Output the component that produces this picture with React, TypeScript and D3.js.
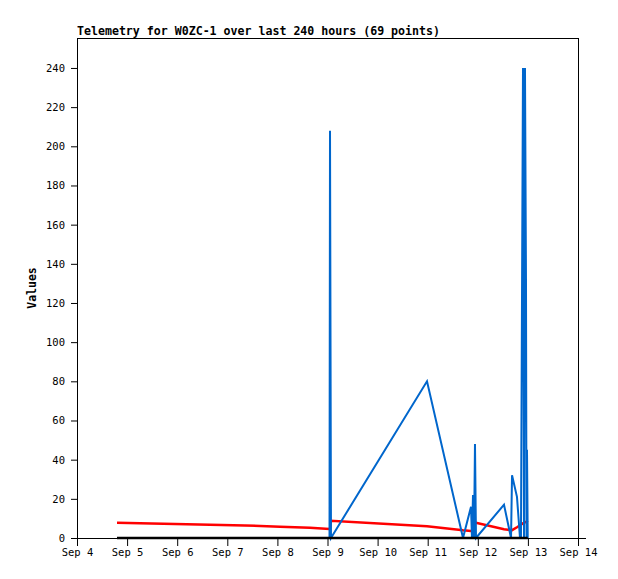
import { useEffect, useRef } from 'react';
import * as d3 from 'd3';

// sample times (Sep, local) and the three telemetry channels
const times = [
  '2021-09-04T19:10', '2021-09-05T06:10', '2021-09-05T22:57', '2021-09-06T15:43',
  '2021-09-07T08:28', '2021-09-08T01:15', '2021-09-08T15:37', '2021-09-09T00:58',
  '2021-09-09T01:12', '2021-09-09T01:40', '2021-09-10T23:40', '2021-09-11T16:55',
  '2021-09-11T20:45', '2021-09-11T21:13', '2021-09-11T21:42', '2021-09-11T22:11',
  '2021-09-11T22:39', '2021-09-11T23:08', '2021-09-12T12:33', '2021-09-12T15:55',
  '2021-09-12T16:24', '2021-09-12T18:46', '2021-09-12T20:13', '2021-09-12T20:41',
  '2021-09-12T21:39', '2021-09-12T22:08', '2021-09-12T22:36', '2021-09-12T23:05',
  '2021-09-12T23:20', '2021-09-12T23:34', '2021-09-12T23:55',
];
const ch1 = [
  0, 0, 0, 0, 0, 0, 0, 0,
  208, 0, 80, 0,
  16, 0, 22, 0,
  48, 0, 17, 0,
  32, 21, 0, 0,
  240, 0, 240, 132,
  0, 45, 0,
];
const ch2 = [
  7.8, 7.5, 7.2, 6.8, 6.4, 5.8, 5.2, 4.6,
  4.6, 8.8, 6.0, 3.9,
  3.6, 3.6, 3.6, 7.6,
  7.8, 7.8, 4.5, 4.0,
  4.0, 5.5, 6.5, 6.8,
  7.5, 7.8, 8.0, 8.2,
  8.4, 8.6, 8.9,
];
const ch3 = times.map(() => 0);

const title = 'Telemetry for W0ZC-1 over last 240 hours (69 points)';
const yTicks = [0, 20, 40, 60, 80, 100, 120, 140, 160, 180, 200, 220, 240];

export default function App() {
  const ref = useRef<SVGSVGElement>(null);

  useEffect(() => {
    if (!ref.current) return;
    const svg = d3.select(ref.current);
    svg.selectAll('*').remove();

    const W = 618;
    const H = 579;
    const left = 77;
    const right = 578;
    const top = 38;
    const bottom = 538;
    const mono = 'DejaVu Sans Mono, monospace';

    const parse = d3.timeParse('%Y-%m-%dT%H:%M');
    const dates = times.map((t) => parse(t) as Date);

    const x = d3.scaleTime()
      .domain([new Date(2021, 8, 4), new Date(2021, 8, 14)])
      .range([left, right]);
    const y = d3.scaleLinear().domain([0, 255.3]).range([bottom, top]);

    svg.append('rect').attr('width', W).attr('height', H).attr('fill', '#fff');

    // frame
    svg.append('rect')
      .attr('x', left + 0.5).attr('y', top + 0.5)
      .attr('width', right - left).attr('height', bottom - top)
      .attr('fill', 'none').attr('stroke', '#000').attr('stroke-width', 1);

    // series: red, blue, black on top
    const series: [number[], string, number][] = [
      [ch2, '#ff0000', 2.5],
      [ch1, '#0066cc', 2],
      [ch3, '#000000', 2.5],
    ];
    series.forEach(([vals, color, w]) => {
      const line = d3.line<number>()
        .x((_, i) => x(dates[i]))
        .y((d) => y(d));
      svg.append('path')
        .attr('d', line(vals) as string)
        .attr('fill', 'none')
        .attr('stroke', color)
        .attr('stroke-width', w)
        .attr('stroke-linejoin', 'miter');
    });

    // x axis
    const xAxis = d3.axisBottom(x)
      .ticks(d3.timeDay.every(1))
      .tickSize(8)
      .tickSizeOuter(0)
      .tickFormat((d) => d3.timeFormat('Sep %-d')(d as Date));
    const gx = svg.append('g')
      .attr('transform', `translate(0,${bottom})`)
      .call(xAxis);
    gx.select('.domain').remove();
    gx.selectAll('.tick line').attr('stroke', '#000');
    gx.selectAll('.tick text')
      .attr('y', 11)
      .attr('font-family', mono)
      .attr('font-size', '10.5px')
      .attr('fill', '#000');
    svg.append('line')
      .attr('x1', left - 6).attr('x2', right + 8)
      .attr('y1', bottom + 0.5).attr('y2', bottom + 0.5)
      .attr('stroke', '#000');

    // y axis
    const yAxis = d3.axisLeft(y).tickValues(yTicks).tickSize(6).tickSizeOuter(0).tickPadding(6);
    const gy = svg.append('g').attr('transform', `translate(${left},0)`).call(yAxis);
    gy.select('.domain').remove();
    gy.selectAll('.tick line').attr('stroke', '#000');
    gy.selectAll('.tick text')
      .attr('font-family', mono)
      .attr('font-size', '10.5px')
      .attr('fill', '#000');

    svg.append('text')
      .attr('transform', `translate(36,${(top + bottom) / 2}) rotate(-90)`)
      .attr('text-anchor', 'middle')
      .attr('font-family', mono)
      .attr('font-weight', 'bold')
      .attr('font-size', '11.5px')
      .text('Values');

    svg.append('text')
      .attr('x', left)
      .attr('y', 35)
      .attr('font-family', mono)
      .attr('font-weight', 'bold')
      .attr('font-size', '11.6px')
      .text(title);

    svg.attr('width', W).attr('height', H).attr('viewBox', `0 0 ${W} ${H}`);
  }, []);

  return (
    <div style={{ position: 'absolute', left: 0, top: 0 }}>
      <svg ref={ref} style={{ display: 'block' }} />
    </div>
  );
}
